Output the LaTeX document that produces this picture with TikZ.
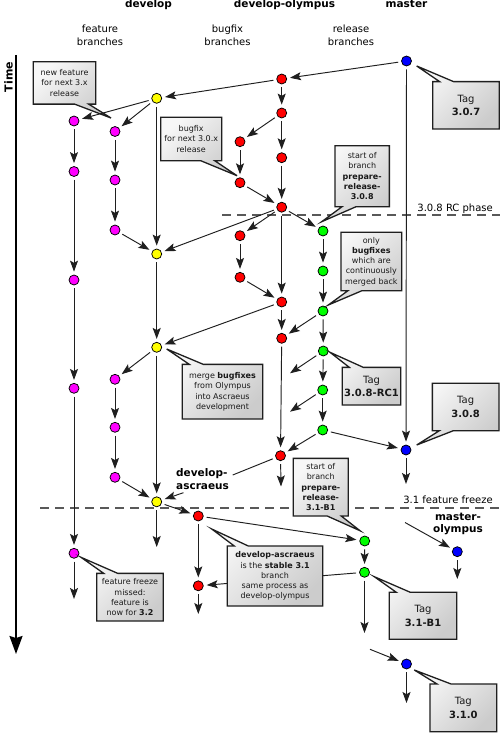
\documentclass[tikz,border=0pt]{standalone}
\usepackage{fontspec}
\setmainfont{DejaVu Sans}
\usetikzlibrary{shapes.callouts,arrows.meta}

\definecolor{featfill}{RGB}{255,0,255}
\definecolor{devfill}{RGB}{255,255,0}
\definecolor{fixfill}{RGB}{255,0,0}
\definecolor{relfill}{RGB}{0,255,0}
\definecolor{mstfill}{RGB}{0,0,255}

\tikzset{
  commit/.style={circle, draw=black, line width=0.75pt, minimum size=10pt, inner sep=0pt},
  feat/.style={commit, fill=featfill},
  dev/.style={commit, fill=devfill},
  fix/.style={commit, fill=fixfill},
  rel/.style={commit, fill=relfill},
  mst/.style={commit, fill=mstfill},
  flow/.style={draw=black!88, line width=0.95pt,
    -{Stealth[length=11pt,width=8pt,inset=2.2pt]}, shorten >=3pt, shorten <=3pt},
  freeend/.style={shorten >=0pt},
  freestart/.style={shorten <=0pt},
  link/.style={draw=black!88, line width=0.95pt, shorten <=3pt},
  note/.style={rectangle callout, draw=black!88, line width=1.3pt,
    top color=gray!6, bottom color=gray!40, shading angle=45,
    inner sep=0pt, align=center, text=black!90,
    font=\fontsize{8}{10.2}\selectfont, callout pointer width=14pt},
  tagbox/.style={note, font=\fontsize{10}{13.3}\selectfont},
  header/.style={font=\fontsize{10.5}{12.6}\selectfont\bfseries, anchor=base, inner sep=0pt},
  lane/.style={font=\fontsize{10}{13.4}\selectfont, align=center, inner sep=0pt},
  phase/.style={draw=black!65, line width=1.2pt, dash pattern=on 9pt off 6pt},
  phaselabel/.style={font=\fontsize{10}{12}\selectfont, anchor=base east, inner sep=0pt},
}

\begin{document}
\begin{tikzpicture}[x=1pt, y=-1pt]
  \useasboundingbox (0,0) rectangle (500,733);
  \fill[white] (0,0) rectangle (500,733);

  % column headers
  \node[header] (hdev) at (148.5,8) {develop};
  \node[header] (holy) at (284.5,8) {develop-olympus};
  \node[header] (hmst) at (406.5,8) {master};
  \node[lane] (lfeat) at (100,35) {feature\\branches};
  \node[lane] (lfix) at (227.5,35) {bugfix\\branches};
  \node[lane] (lrel) at (351,35) {release\\branches};

  % time axis
  \node[font=\fontsize{11}{13}\selectfont\bfseries, rotate=90, inner sep=0pt] (time) at (8.5,77) {Time};
  \coordinate (t0) at (16,55);
  \coordinate (t1) at (16,654);
  \draw[line width=1.8pt, -{Stealth[length=18pt,width=13pt,inset=2pt]}] (t0) -- (t1);

  % phase boundaries
  \coordinate (rc-a) at (222,215);
  \coordinate (rc-b) at (500,215);
  \coordinate (ff-a) at (40,508);
  \coordinate (ff-b) at (500,508);
  \draw[phase] (rc-a) -- (rc-b);
  \draw[phase] (ff-a) -- (ff-b);
  \node[phaselabel] (lrc) at (493,211) {3.0.8 RC phase};
  \node[phaselabel] (lff) at (493,503) {3.1 feature freeze};

  % master
  \node[mst] (M1) at (406.5,61) {};
  \node[mst] (M2) at (406,450) {};
  \node[mst] (M3) at (406.5,664) {};
  \node[mst] (MO) at (457.3,551.7) {};

  % develop-olympus
  \node[fix] (O1) at (281.7,79) {};
  \node[fix] (O2) at (281.7,113) {};
  \node[fix] (O3) at (281.7,157.7) {};
  \node[fix] (O4) at (281.7,207.2) {};
  \node[fix] (O5) at (281.7,302) {};
  \node[fix] (O6) at (281.7,338.3) {};
  \node[fix] (O7) at (280.5,455.7) {};

  % bugfix branches
  \node[fix] (B1) at (240,141.7) {};
  \node[fix] (B2) at (240,182.7) {};
  \node[fix] (B3) at (240,235.7) {};
  \node[fix] (B4) at (240,277.3) {};

  % release branch 3.0.8
  \node[rel] (G1) at (323,231) {};
  \node[rel] (G2) at (323,271) {};
  \node[rel] (G3) at (323,311) {};
  \node[rel] (G4) at (323.3,351) {};
  \node[rel] (G5) at (322.7,390) {};
  \node[rel] (G6) at (322.7,430) {};

  % develop
  \node[dev] (Y1) at (156.7,98.3) {};
  \node[dev] (Y2) at (156.7,254) {};
  \node[dev] (Y3) at (156.7,347.3) {};
  \node[dev] (Y4) at (156.7,501.8) {};

  % feature branches
  \node[feat] (F1) at (74,121) {};
  \node[feat] (F2) at (74,171.5) {};
  \node[feat] (F3) at (74,280) {};
  \node[feat] (F4) at (74,388.3) {};
  \node[feat] (F5) at (74,553.3) {};
  \node[feat] (P1) at (115,131.5) {};
  \node[feat] (P2) at (115,180) {};
  \node[feat] (P3) at (115,230) {};
  \node[feat] (P4) at (115,379.3) {};
  \node[feat] (P5) at (115,427.3) {};
  \node[feat] (P6) at (115,477.3) {};

  % develop-ascraeus and release 3.1
  \node[fix] (A1) at (198.3,516) {};
  \node[fix] (A2) at (198.3,585.8) {};
  \node[rel] (H1) at (364.7,541) {};
  \node[rel] (H2) at (364.5,572.3) {};

  % branch labels
  \node[font=\fontsize{10.5}{12.6}\selectfont\bfseries, align=left, anchor=west, inner sep=0pt]
    (lasc) at (176,479) {develop-\\ascraeus};
  \node[font=\fontsize{10.5}{12.6}\selectfont\bfseries, align=center, inner sep=0pt]
    (lmo) at (458,524) {master-\\olympus};

  % loose ends
  \coordinate (M2end) at (406,484);
  \coordinate (O7end) at (281,486.5);
  \coordinate (F5end) at (74,599);
  \coordinate (Y4end) at (156.7,547);
  \coordinate (A2end) at (198.3,614);
  \coordinate (H2end) at (364.5,633);
  \coordinate (MOstart) at (405,522.5);
  \coordinate (MOend) at (457.3,579);
  \coordinate (M3start) at (370,649.3);
  \coordinate (M3end) at (406.5,703);
  \coordinate (G4end) at (290,373.3);
  \coordinate (G5end) at (290,411.7);
  \coordinate (asc-in) at (232.7,475);
  \coordinate (asc-out) at (183.5,492.7);

  % merge running behind the ascraeus note
  \draw[flow] (H2) -- (A2);

  % notes
  \node[note, minimum width=62.4pt, minimum height=42.3pt, callout absolute pointer={(111,118)}]
    (n1) at (64.5,83) {new feature\\for next 3.x\\release};
  \node[note, minimum width=61pt, minimum height=43.4pt, callout absolute pointer={(237,175.7)}]
    (n2) at (191.2,139) {bugfix\\for next 3.0.x\\release};
  \node[note, minimum width=54.3pt, minimum height=61pt, callout absolute pointer={(321.7,221.7)}]
    (n3) at (362.2,176.2) {start of\\branch\\\textbf{prepare-}\\\textbf{release-}\\\textbf{3.0.8}};
  \node[note, minimum width=60.7pt, minimum height=58.4pt, callout absolute pointer={(328.3,305)}]
    (n4) at (371.3,261.5) {only\\\textbf{bugfixes}\\which are\\continuously\\merged back};
  \node[tagbox, minimum width=66.7pt, minimum height=47.3pt, callout absolute pointer={(416.7,66)}]
    (n5) at (466,105.3) {Tag\\\textbf{3.0.7}};
  \node[tagbox, minimum width=58.4pt, minimum height=37.7pt, callout absolute pointer={(330,352.3)}]
    (n6) at (371.5,386.2) {Tag\\\textbf{3.0.8-RC1}};
  \node[tagbox, minimum width=66.7pt, minimum height=47.4pt, callout absolute pointer={(416.7,445)}]
    (n7) at (465.7,407) {Tag\\\textbf{3.0.8}};
  \node[note, minimum width=80.4pt, minimum height=54.7pt, callout absolute pointer={(166.7,349)}]
    (n8) at (222.5,391.7) {merge \textbf{bugfixes}\\from Olympus\\into Ascraeus\\development};
  \node[note, minimum width=55pt, minimum height=57.7pt, callout absolute pointer={(360,530.7)}]
    (n9) at (320.8,487.2) {start of\\branch\\\textbf{prepare-}\\\textbf{release-}\\\textbf{3.1-B1}};
  \node[note, minimum width=95.4pt, minimum height=60pt, callout absolute pointer={(211.7,529)}]
    (n10) at (275,576) {\textbf{develop-ascraeus}\\is the \textbf{stable 3.1}\\branch\\same process as\\develop-olympus};
  \node[note, minimum width=66.6pt, minimum height=47.7pt, callout absolute pointer={(81,557.3)}]
    (n11) at (130,597.2) {feature freeze\\missed:\\feature is\\now for \textbf{3.2}};
  \node[tagbox, minimum width=67.4pt, minimum height=47pt, callout absolute pointer={(374.3,576.7)}]
    (n12) at (423,615.8) {Tag\\\textbf{3.1-B1}};
  \node[tagbox, minimum width=66.7pt, minimum height=47.7pt, callout absolute pointer={(414.3,670)}]
    (n13) at (463.3,707.8) {Tag\\\textbf{3.1.0}};

  % master and olympus flow
  \draw[flow] (M1) -- (O1);
  \draw[flow] (M1) -- (M2);
  \draw[flow] (O1) -- (Y1);
  \draw[flow] (O1) -- (O2);
  \draw[flow] (O2) -- (O3);
  \draw[flow] (O2) -- (B1);
  \draw[flow] (O3) -- (O4);
  \draw[flow] (B1) -- (B2);
  \draw[flow] (B2) -- (O4);
  \draw[flow] (O4) -- (Y2);
  \draw[flow] (O4) -- (B3);
  \draw[flow] (O4) -- (O5);
  \draw[flow] (O4) -- (G1);
  \draw[flow] (B3) -- (B4);
  \draw[flow] (B4) -- (O5);
  \draw[flow] (G1) -- (G2);
  \draw[flow] (G2) -- (G3);
  \draw[flow] (O5) -- (O6);
  \draw[flow] (O5) -- (Y3);
  \draw[flow] (G3) -- (O6);
  \draw[flow] (G3) -- (G4);
  \draw[flow] (G4) -- (G5);
  \draw[flow] (G5) -- (G6);
  \draw[flow, freeend] (G4) -- (G4end);
  \draw[flow, freeend] (G5) -- (G5end);
  \draw[flow] (O6) -- (O7);
  \draw[flow] (G6) -- (O7);
  \draw[flow] (G6) -- (M2);
  \draw[flow, freeend] (M2) -- (M2end);
  \draw[flow, freeend] (O7) -- (O7end);
  \draw[link] (O7) -- (asc-in);
  \draw[flow, freestart] (asc-out) -- (Y4);

  % develop and feature flow
  \draw[flow] (Y1) -- (F1);
  \draw[flow] (Y1) -- (P1);
  \draw[flow] (Y1) -- (Y2);
  \draw[flow] (F1) -- (F2);
  \draw[flow] (F2) -- (F3);
  \draw[flow] (F3) -- (F4);
  \draw[flow] (F4) -- (F5);
  \draw[flow, freeend] (F5) -- (F5end);
  \draw[flow] (P1) -- (P2);
  \draw[flow] (P2) -- (P3);
  \draw[flow] (P3) -- (Y2);
  \draw[flow] (Y2) -- (Y3);
  \draw[flow] (Y3) -- (P4);
  \draw[flow] (Y3) -- (Y4);
  \draw[flow] (P4) -- (P5);
  \draw[flow] (P5) -- (P6);
  \draw[flow] (P6) -- (Y4);
  \draw[flow] (Y4) -- (A1);
  \draw[flow, freeend] (Y4) -- (Y4end);

  % ascraeus and 3.1 flow
  \draw[flow] (A1) -- (A2);
  \draw[flow] (A1) -- (H1);
  \draw[flow] (H1) -- (H2);
  \draw[flow, freeend] (A2) -- (A2end);
  \draw[flow, freeend] (H2) -- (H2end);
  \draw[flow, freestart] (MOstart) -- (MO);
  \draw[flow, freeend] (MO) -- (MOend);
  \draw[flow, freestart] (M3start) -- (M3);
  \draw[flow, freeend] (M3) -- (M3end);
\end{tikzpicture}
\end{document}
